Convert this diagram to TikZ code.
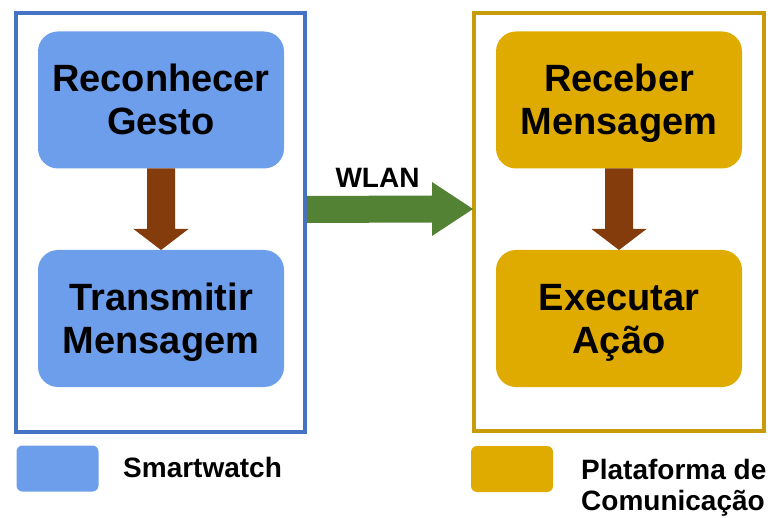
\documentclass[tikz,border=0pt]{standalone}
\usepackage{fontspec}
\setmainfont{Liberation Sans}
\usetikzlibrary{calc}
\definecolor{swfill}{RGB}{109,158,235}
\definecolor{swframe}{RGB}{68,114,196}
\definecolor{cpfill}{RGB}{224,171,0}
\definecolor{cpframe}{RGB}{200,155,8}
\definecolor{flowbrown}{RGB}{132,60,12}
\definecolor{linkgreen}{RGB}{84,130,53}
\begin{document}
\begin{tikzpicture}[x=1pt,y=-1pt,
  frame/.style={draw,line width=3.5pt,inner sep=0pt,outer sep=0pt},
  stage/.style={rounded corners=20pt,minimum width=246pt,minimum height=137pt,
    inner sep=0pt,outer sep=0pt,align=center,
    font=\fontsize{38}{43}\selectfont\bfseries,text height=70pt,text depth=0pt},
  swatch/.style={rounded corners=6pt,minimum width=82pt,minimum height=46pt,inner sep=0pt},
  legendtext/.style={anchor=base west,inner sep=0pt,align=left,
    font=\fontsize{28}{31}\selectfont\bfseries},
  linklabel/.style={anchor=base,inner sep=0pt,font=\fontsize{28}{31}\selectfont\bfseries}]
\useasboundingbox (0,0) rectangle (773,518);

% outer frames of the two devices
\node[frame,draw=swframe,minimum width=289pt,minimum height=419pt] (watch) at (160.5,222.5) {};
\node[frame,draw=cpframe,minimum width=290pt,minimum height=418pt] (plat) at (619,222) {};

% processing stages
\node[stage,fill=swfill] (gesto) at (161,100) {Reconhecer\\Gesto};
\node[stage,fill=swfill] (transmit) at (161,318.5) {Transmitir\\Mensagem};
\node[stage,fill=cpfill] (receive) at (619,100) {Receber\\Mensagem};
\node[stage,fill=cpfill] (execute) at (619,318.5) {Executar\\Ação};

% block arrows inside each device
\foreach \from/\to in {gesto/transmit,receive/execute}{
  \fill[flowbrown] ($(\from.south)+(-14,0)$) -- ($(\to.north)+(-14,-21)$)
    -- ($(\to.north)+(-27.5,-21)$) -- (\to.north) -- ($(\to.north)+(27.5,-21)$)
    -- ($(\to.north)+(14,-21)$) -- ($(\from.south)+(14,0)$) -- cycle;
}

% wireless link between the devices
\coordinate (linkstart) at ($(watch.east)+(1.75,-13)$);
\coordinate (linkend) at ($(plat.west)+(-1,-13)$);
\fill[linkgreen] ($(linkstart)+(0,-13.5)$) -- ($(linkend)+(-41,-13.5)$)
  -- ($(linkend)+(-41,-27)$) -- (linkend) -- ($(linkend)+(-41,27)$)
  -- ($(linkend)+(-41,13.5)$) -- ($(linkstart)+(0,13.5)$) -- cycle;
\node[linklabel] (wlan) at (377.5,188) {WLAN};

% legend
\node[swatch,fill=swfill] (keyw) at (57.5,468.5) {};
\node[legendtext] (keywtext) at (123,477) {Smartwatch};
\node[swatch,fill=cpfill] (keyp) at (512,469) {};
\node[legendtext] (keyptext) at (581,510) {Plataforma de\\Comunicação};
\end{tikzpicture}
\end{document}
